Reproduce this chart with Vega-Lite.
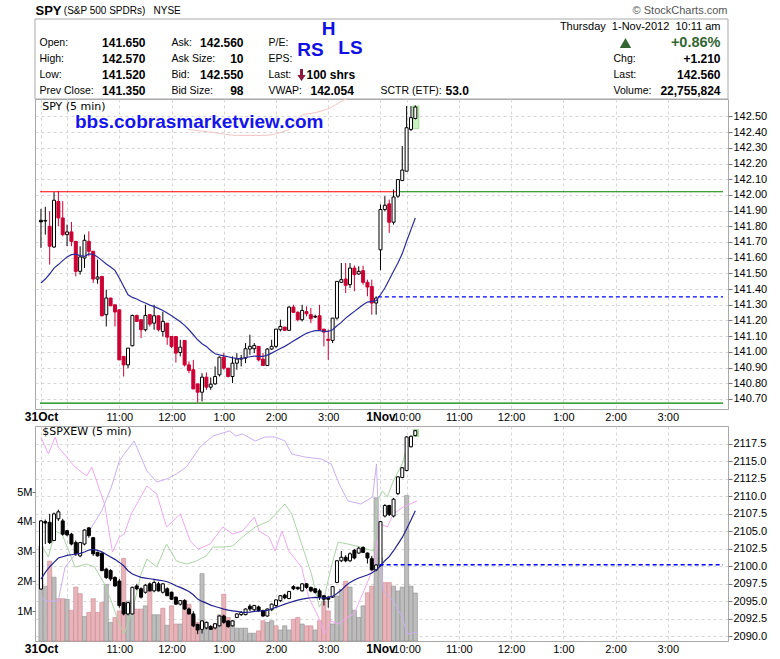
{
"$schema": "https://vega.github.io/schema/vega-lite/v6.json",
"background": "white",
"padding": {"left": 16, "top": 5, "right": 5, "bottom": 0},
"config": {"view": {"stroke": "#a9a9a9", "strokeWidth": 1}, "axis": {"labelFont": "Liberation Sans", "labelColor": "#000000"}},
"datasets": {
"bars": [
{"t":0,"so":141.838,"sh":141.911,"sl":141.662,"sc":141.828,"sm":141.439,"eo":2096.76,"eh":2106.6,"el":2096.7,"ec":2106.5,"em":2098.18,"v":3.18,"vd":"u"},
{"t":5,"so":141.836,"sh":141.924,"sl":141.747,"sc":141.834,"sm":141.464,"eo":2106.4,"eh":2106.7,"el":2103.2,"ec":2106.2,"em":2099.14,"v":1.84,"vd":"u"},
{"t":10,"so":141.8,"sh":141.896,"sl":141.556,"sc":141.673,"sm":141.496,"eo":2106.3,"eh":2107.5,"el":2103.2,"ec":2103.4,"em":2099.95,"v":2.68,"vd":"d"},
{"t":15,"so":141.668,"sh":142.017,"sl":141.662,"sc":141.966,"sm":141.534,"eo":2103.7,"eh":2107.7,"el":2103.6,"ec":2107.5,"em":2100.57,"v":2.14,"vd":"u"},
{"t":20,"so":141.958,"sh":142.024,"sl":141.8,"sc":141.853,"sm":141.556,"eo":2106.8,"eh":2108.1,"el":2106.5,"ec":2107.8,"em":2101.19,"v":1.42,"vd":"d"},
{"t":25,"so":141.853,"sh":141.96,"sl":141.736,"sc":141.747,"sm":141.581,"eo":2106.5,"eh":2106.8,"el":2104.4,"ec":2104.6,"em":2101.38,"v":1.42,"vd":"d"},
{"t":30,"so":141.747,"sh":141.811,"sl":141.673,"sc":141.764,"sm":141.605,"eo":2105.1,"eh":2105.2,"el":2104.3,"ec":2104.5,"em":2101.57,"v":1.4,"vd":"u"},
{"t":35,"so":141.764,"sh":141.828,"sl":141.673,"sc":141.704,"sm":141.619,"eo":2104.6,"eh":2104.8,"el":2103.0,"ec":2103.2,"em":2101.66,"v":1.03,"vd":"d"},
{"t":40,"so":141.704,"sh":141.704,"sl":141.481,"sc":141.513,"sm":141.622,"eo":2103.4,"eh":2103.7,"el":2101.5,"ec":2101.8,"em":2101.76,"v":1.81,"vd":"d"},
{"t":45,"so":141.513,"sh":141.673,"sl":141.492,"sc":141.605,"sm":141.613,"eo":2101.5,"eh":2103.5,"el":2101.3,"ec":2103.4,"em":2101.86,"v":1.59,"vd":"d"},
{"t":50,"so":141.598,"sh":141.747,"sl":141.534,"sc":141.711,"sm":141.609,"eo":2103.2,"eh":2105.3,"el":2103.0,"ec":2105.2,"em":2102.05,"v":0.82,"vd":"u"},
{"t":55,"so":141.704,"sh":141.768,"sl":141.609,"sc":141.641,"sm":141.624,"eo":2105.5,"eh":2105.6,"el":2104.1,"ec":2104.4,"em":2102.33,"v":0.96,"vd":"d"},
{"t":60,"so":141.641,"sh":141.641,"sl":141.439,"sc":141.464,"sm":141.622,"eo":2104.1,"eh":2104.2,"el":2101.5,"ec":2101.8,"em":2102.43,"v":1.42,"vd":"d"},
{"t":65,"so":141.464,"sh":141.588,"sl":141.434,"sc":141.477,"sm":141.605,"eo":2102.0,"eh":2102.1,"el":2101.4,"ec":2101.5,"em":2102.28,"v":0.96,"vd":"d"},
{"t":70,"so":141.481,"sh":141.481,"sl":141.226,"sc":141.23,"sm":141.583,"eo":2101.9,"eh":2102.0,"el":2099.3,"ec":2099.4,"em":2102.09,"v":1.29,"vd":"d"},
{"t":75,"so":141.237,"sh":141.396,"sl":141.162,"sc":141.343,"sm":141.56,"eo":2099.6,"eh":2099.8,"el":2098.2,"ec":2098.4,"em":2101.71,"v":1.9,"vd":"u"},
{"t":80,"so":141.343,"sh":141.343,"sl":141.29,"sc":141.294,"sm":141.541,"eo":2099.4,"eh":2099.6,"el":2097.9,"ec":2098.2,"em":2101.33,"v":0.62,"vd":"u"},
{"t":85,"so":141.3,"sh":141.3,"sl":141.162,"sc":141.254,"sm":141.519,"eo":2098.4,"eh":2098.6,"el":2097.1,"ec":2097.2,"em":2101.0,"v":0.79,"vd":"d"},
{"t":90,"so":141.268,"sh":141.268,"sl":140.949,"sc":140.949,"sm":141.471,"eo":2097.9,"eh":2098.2,"el":2094.1,"ec":2094.4,"em":2100.57,"v":1.01,"vd":"d"},
{"t":95,"so":140.971,"sh":140.971,"sl":140.843,"sc":140.917,"sm":141.417,"eo":2094.8,"eh":2094.9,"el":2093.0,"ec":2093.2,"em":2100.09,"v":2.77,"vd":"d"},
{"t":100,"so":140.917,"sh":141.024,"sl":140.896,"sc":141.024,"sm":141.364,"eo":2093.2,"eh":2094.9,"el":2093.0,"ec":2094.8,"em":2099.38,"v":1.34,"vd":"u"},
{"t":105,"so":141.039,"sh":141.237,"sl":141.035,"sc":141.232,"sm":141.347,"eo":2093.2,"eh":2097.1,"el":2093.1,"ec":2097.0,"em":2098.9,"v":1.34,"vd":"u"},
{"t":110,"so":141.232,"sh":141.237,"sl":141.194,"sc":141.194,"sm":141.337,"eo":2097.2,"eh":2097.5,"el":2096.6,"ec":2096.8,"em":2098.66,"v":1.07,"vd":"d"},
{"t":115,"so":141.205,"sh":141.205,"sl":141.088,"sc":141.141,"sm":141.322,"eo":2096.8,"eh":2097.0,"el":2095.4,"ec":2095.6,"em":2098.42,"v":1.07,"vd":"d"},
{"t":120,"so":141.141,"sh":141.3,"sl":141.13,"sc":141.232,"sm":141.311,"eo":2096.3,"eh":2097.5,"el":2096.1,"ec":2097.3,"em":2098.33,"v":1.18,"vd":"u"},
{"t":125,"so":141.237,"sh":141.237,"sl":141.162,"sc":141.177,"sm":141.298,"eo":2097.5,"eh":2097.7,"el":2096.4,"ec":2096.5,"em":2098.23,"v":1.7,"vd":"d"},
{"t":130,"so":141.183,"sh":141.3,"sl":141.141,"sc":141.23,"sm":141.288,"eo":2096.5,"eh":2098.0,"el":2096.3,"ec":2097.7,"em":2098.14,"v":0.88,"vd":"u"},
{"t":135,"so":141.23,"sh":141.23,"sl":141.13,"sc":141.141,"sm":141.277,"eo":2097.5,"eh":2097.8,"el":2096.4,"ec":2096.5,"em":2098.04,"v":0.88,"vd":"u"},
{"t":140,"so":141.13,"sh":141.256,"sl":141.098,"sc":141.194,"sm":141.264,"eo":2096.3,"eh":2097.6,"el":2096.1,"ec":2097.5,"em":2097.94,"v":1.1,"vd":"d"},
{"t":145,"so":141.183,"sh":141.183,"sl":141.045,"sc":141.094,"sm":141.247,"eo":2096.8,"eh":2097.0,"el":2095.8,"ec":2095.8,"em":2097.8,"v":0.53,"vd":"u"},
{"t":150,"so":141.098,"sh":141.098,"sl":141.024,"sc":141.035,"sm":141.23,"eo":2096.3,"eh":2096.4,"el":2095.2,"ec":2095.3,"em":2097.56,"v":1.18,"vd":"d"},
{"t":155,"so":141.098,"sh":141.098,"sl":140.932,"sc":140.992,"sm":141.211,"eo":2095.6,"eh":2095.7,"el":2094.5,"ec":2094.6,"em":2097.23,"v":0.57,"vd":"d"},
{"t":160,"so":140.996,"sh":141.077,"sl":140.971,"sc":141.03,"sm":141.192,"eo":2094.6,"eh":2095.2,"el":2094.4,"ec":2095.1,"em":2096.99,"v":0.57,"vd":"u"},
{"t":165,"so":141.073,"sh":141.073,"sl":140.907,"sc":140.917,"sm":141.169,"eo":2095.1,"eh":2095.3,"el":2093.8,"ec":2093.9,"em":2096.71,"v":1.37,"vd":"d"},
{"t":170,"so":140.917,"sh":140.939,"sl":140.864,"sc":140.881,"sm":141.141,"eo":2093.9,"eh":2094.1,"el":2093.1,"ec":2093.2,"em":2096.42,"v":1.23,"vd":"d"},
{"t":175,"so":140.886,"sh":140.949,"sl":140.764,"sc":140.764,"sm":141.109,"eo":2093.2,"eh":2093.6,"el":2091.3,"ec":2091.5,"em":2095.94,"v":0.84,"vd":"d"},
{"t":180,"so":140.796,"sh":140.796,"sl":140.677,"sc":140.743,"sm":141.077,"eo":2091.7,"eh":2091.8,"el":2090.3,"ec":2090.9,"em":2095.32,"v":0.62,"vd":"d"},
{"t":185,"so":140.743,"sh":140.864,"sl":140.684,"sc":140.839,"sm":141.052,"eo":2091.0,"eh":2092.3,"el":2090.4,"ec":2092.2,"em":2094.99,"v":2.26,"vd":"u"},
{"t":190,"so":140.839,"sh":140.869,"sl":140.758,"sc":140.775,"sm":141.035,"eo":2091.2,"eh":2092.1,"el":2091.0,"ec":2092.0,"em":2094.75,"v":0.62,"vd":"u"},
{"t":195,"so":140.775,"sh":140.837,"sl":140.758,"sc":140.794,"sm":141.009,"eo":2091.4,"eh":2091.6,"el":2090.9,"ec":2091.0,"em":2094.46,"v":0.43,"vd":"u"},
{"t":200,"so":140.796,"sh":140.907,"sl":140.79,"sc":140.843,"sm":140.988,"eo":2091.2,"eh":2091.9,"el":2091.0,"ec":2091.8,"em":2094.27,"v":0.57,"vd":"d"},
{"t":205,"so":140.854,"sh":140.971,"sl":140.843,"sc":140.966,"sm":140.981,"eo":2091.5,"eh":2093.0,"el":2091.4,"ec":2092.9,"em":2094.08,"v":0.88,"vd":"u"},
{"t":210,"so":140.966,"sh":140.992,"sl":140.886,"sc":140.896,"sm":140.975,"eo":2092.9,"eh":2093.1,"el":2091.8,"ec":2092.0,"em":2093.89,"v":1.57,"vd":"d"},
{"t":215,"so":140.896,"sh":140.896,"sl":140.837,"sc":140.843,"sm":140.969,"eo":2092.2,"eh":2092.3,"el":2091.2,"ec":2091.4,"em":2093.75,"v":0.79,"vd":"d"},
{"t":220,"so":140.843,"sh":140.971,"sl":140.801,"sc":140.928,"sm":140.962,"eo":2091.5,"eh":2092.3,"el":2091.4,"ec":2092.2,"em":2093.65,"v":0.68,"vd":"u"},
{"t":225,"so":140.928,"sh":140.992,"sl":140.886,"sc":140.954,"sm":140.958,"eo":2092.7,"eh":2093.3,"el":2092.6,"ec":2093.2,"em":2093.56,"v":0.43,"vd":"u"},
{"t":230,"so":140.954,"sh":140.981,"sl":140.907,"sc":140.96,"sm":140.956,"eo":2093.1,"eh":2093.6,"el":2092.9,"ec":2093.4,"em":2093.46,"v":0.43,"vd":"u"},
{"t":235,"so":140.96,"sh":141.056,"sl":140.928,"sc":141.02,"sm":140.964,"eo":2093.1,"eh":2094.0,"el":2093.0,"ec":2093.9,"em":2093.41,"v":0.43,"vd":"u"},
{"t":240,"so":141.018,"sh":141.109,"sl":140.981,"sc":141.035,"sm":140.969,"eo":2094.3,"eh":2094.6,"el":2093.6,"ec":2093.9,"em":2093.46,"v":0.26,"vd":"u"},
{"t":245,"so":141.02,"sh":141.056,"sl":140.992,"sc":141.041,"sm":140.973,"eo":2093.8,"eh":2094.5,"el":2093.6,"ec":2094.4,"em":2093.56,"v":0.26,"vd":"u"},
{"t":250,"so":141.035,"sh":141.035,"sl":140.939,"sc":140.949,"sm":140.971,"eo":2094.2,"eh":2094.4,"el":2093.5,"ec":2093.7,"em":2093.6,"v":0.34,"vd":"d"},
{"t":255,"so":140.954,"sh":140.992,"sl":140.913,"sc":140.913,"sm":140.971,"eo":2093.7,"eh":2093.8,"el":2092.8,"ec":2092.9,"em":2093.65,"v":0.68,"vd":"d"},
{"t":260,"so":140.913,"sh":141.024,"sl":140.913,"sc":141.018,"sm":140.979,"eo":2092.9,"eh":2094.0,"el":2092.8,"ec":2093.9,"em":2093.7,"v":0.62,"vd":"u"},
{"t":265,"so":141.018,"sh":141.077,"sl":141.013,"sc":141.035,"sm":140.992,"eo":2093.8,"eh":2094.7,"el":2093.6,"ec":2094.6,"em":2093.94,"v":0.68,"vd":"u"},
{"t":270,"so":141.035,"sh":141.145,"sl":141.024,"sc":141.145,"sm":141.007,"eo":2094.4,"eh":2095.3,"el":2094.2,"ec":2095.2,"em":2094.13,"v":0.51,"vd":"d"},
{"t":275,"so":141.141,"sh":141.205,"sl":141.13,"sc":141.162,"sm":141.022,"eo":2095.1,"eh":2095.9,"el":2094.9,"ec":2095.8,"em":2094.37,"v":0.37,"vd":"u"},
{"t":280,"so":141.158,"sh":141.158,"sl":141.137,"sc":141.137,"sm":141.035,"eo":2095.9,"eh":2096.1,"el":2095.3,"ec":2095.5,"em":2094.6,"v":0.51,"vd":"u"},
{"t":285,"so":141.137,"sh":141.29,"sl":141.137,"sc":141.285,"sm":141.052,"eo":2095.4,"eh":2096.5,"el":2095.3,"ec":2096.4,"em":2094.8,"v":0.37,"vd":"u"},
{"t":290,"so":141.285,"sh":141.3,"sl":141.247,"sc":141.252,"sm":141.069,"eo":2097.1,"eh":2097.3,"el":2096.6,"ec":2096.8,"em":2094.99,"v":0.73,"vd":"d"},
{"t":295,"so":141.252,"sh":141.258,"sl":141.194,"sc":141.205,"sm":141.086,"eo":2097.0,"eh":2097.1,"el":2096.6,"ec":2096.8,"em":2095.18,"v":0.79,"vd":"d"},
{"t":300,"so":141.205,"sh":141.3,"sl":141.194,"sc":141.264,"sm":141.103,"eo":2096.5,"eh":2097.6,"el":2096.4,"ec":2097.5,"em":2095.32,"v":0.57,"vd":"u"},
{"t":305,"so":141.256,"sh":141.29,"sl":141.226,"sc":141.243,"sm":141.118,"eo":2097.5,"eh":2097.6,"el":2096.8,"ec":2097.0,"em":2095.42,"v":0.51,"vd":"d"},
{"t":310,"so":141.237,"sh":141.279,"sl":141.183,"sc":141.211,"sm":141.128,"eo":2097.0,"eh":2097.1,"el":2096.3,"ec":2096.5,"em":2095.51,"v":0.51,"vd":"d"},
{"t":315,"so":141.226,"sh":141.237,"sl":141.215,"sc":141.222,"sm":141.135,"eo":2096.8,"eh":2096.9,"el":2096.1,"ec":2096.3,"em":2095.56,"v":0.37,"vd":"u"},
{"t":320,"so":141.23,"sh":141.3,"sl":141.141,"sc":141.141,"sm":141.135,"eo":2096.5,"eh":2096.8,"el":2095.2,"ec":2095.6,"em":2095.51,"v":0.68,"vd":"d"},
{"t":325,"so":141.145,"sh":141.145,"sl":141.035,"sc":141.126,"sm":141.13,"eo":2095.8,"eh":2095.9,"el":2094.4,"ec":2095.3,"em":2095.46,"v":1.34,"vd":"d"},
{"t":330,"so":141.081,"sh":141.141,"sl":140.949,"sc":141.073,"sm":141.13,"eo":2095.6,"eh":2095.7,"el":2094.1,"ec":2095.3,"em":2095.56,"v":1.01,"vd":"d"},
{"t":335,"so":141.073,"sh":141.215,"sl":141.056,"sc":141.215,"sm":141.141,"eo":2095.6,"eh":2097.2,"el":2095.5,"ec":2097.1,"em":2095.7,"v":0.57,"vd":"u"},
{"t":340,"so":141.215,"sh":141.449,"sl":141.205,"sc":141.449,"sm":141.166,"eo":2097.7,"eh":2100.9,"el":2097.6,"ec":2100.8,"em":2096.13,"v":1.51,"vd":"u"},
{"t":345,"so":141.443,"sh":141.566,"sl":141.439,"sc":141.46,"sm":141.188,"eo":2100.8,"eh":2102.2,"el":2100.6,"ec":2101.3,"em":2096.61,"v":1.73,"vd":"u"},
{"t":350,"so":141.464,"sh":141.566,"sl":141.375,"sc":141.424,"sm":141.215,"eo":2101.3,"eh":2101.6,"el":2100.6,"ec":2100.8,"em":2097.23,"v":2.01,"vd":"d"},
{"t":355,"so":141.428,"sh":141.566,"sl":141.407,"sc":141.534,"sm":141.237,"eo":2100.8,"eh":2102.0,"el":2100.6,"ec":2101.8,"em":2097.71,"v":1.81,"vd":"u"},
{"t":360,"so":141.534,"sh":141.551,"sl":141.386,"sc":141.492,"sm":141.258,"eo":2102.3,"eh":2102.5,"el":2101.0,"ec":2101.2,"em":2098.04,"v":1.03,"vd":"u"},
{"t":365,"so":141.496,"sh":141.545,"sl":141.492,"sc":141.513,"sm":141.279,"eo":2101.9,"eh":2102.8,"el":2101.8,"ec":2102.6,"em":2098.33,"v":0.79,"vd":"u"},
{"t":370,"so":141.517,"sh":141.549,"sl":141.428,"sc":141.443,"sm":141.3,"eo":2102.7,"eh":2102.9,"el":2101.9,"ec":2102.0,"em":2098.56,"v":1.18,"vd":"u"},
{"t":375,"so":141.443,"sh":141.46,"sl":141.354,"sc":141.413,"sm":141.317,"eo":2101.9,"eh":2102.0,"el":2100.4,"ec":2101.2,"em":2098.76,"v":1.62,"vd":"d"},
{"t":380,"so":141.417,"sh":141.46,"sl":141.237,"sc":141.311,"sm":141.322,"eo":2101.1,"eh":2101.5,"el":2099.4,"ec":2099.5,"em":2099.04,"v":1.84,"vd":"d"},
{"t":385,"so":141.311,"sh":141.354,"sl":141.237,"sc":141.343,"sm":141.326,"eo":2099.5,"eh":2100.3,"el":2099.3,"ec":2100.2,"em":2099.47,"v":4.81,"vd":"u"},
{"t":390,"so":141.65,"sh":141.939,"sl":141.52,"sc":141.907,"sm":141.364,"eo":2100.1,"eh":2106.5,"el":2100.0,"ec":2106.4,"em":2100.09,"v":2.79,"vd":"u"},
{"t":395,"so":141.907,"sh":141.992,"sl":141.896,"sc":141.934,"sm":141.407,"eo":2107.2,"eh":2108.9,"el":2107.0,"ec":2108.7,"em":2100.81,"v":1.96,"vd":"d"},
{"t":400,"so":141.943,"sh":141.97,"sl":141.758,"sc":141.826,"sm":141.46,"eo":2108.7,"eh":2108.8,"el":2107.2,"ec":2107.4,"em":2101.38,"v":1.96,"vd":"d"},
{"t":405,"so":141.826,"sh":142.034,"sl":141.811,"sc":141.987,"sm":141.513,"eo":2107.2,"eh":2109.8,"el":2107.0,"ec":2109.6,"em":2102.24,"v":1.84,"vd":"u"},
{"t":410,"so":141.992,"sh":142.098,"sl":141.981,"sc":142.098,"sm":141.566,"eo":2110.4,"eh":2112.9,"el":2110.2,"ec":2112.8,"em":2103.19,"v":1.68,"vd":"u"},
{"t":415,"so":142.092,"sh":142.311,"sl":142.088,"sc":142.158,"sm":141.626,"eo":2112.7,"eh":2114.2,"el":2112.6,"ec":2114.1,"em":2104.14,"v":1.81,"vd":"u"},
{"t":420,"so":142.151,"sh":142.566,"sl":142.151,"sc":142.428,"sm":141.705,"eo":2113.7,"eh":2118.6,"el":2113.6,"ec":2118.5,"em":2105.34,"v":4.88,"vd":"u"},
{"t":425,"so":142.417,"sh":142.566,"sl":142.407,"sc":142.492,"sm":141.779,"eo":2117.1,"eh":2118.7,"el":2117.0,"ec":2118.6,"em":2106.62,"v":1.84,"vd":"u"},
{"t":430,"so":142.487,"sh":142.57,"sl":142.481,"sc":142.56,"sm":141.853,"eo":2118.7,"eh":2119.5,"el":2118.6,"ec":2119.4,"em":2107.96,"v":1.61,"vd":"u"}
],
"lev": [
{"t":-1.1,"t2":409,"y":142.02,"s":"b"},
{"t":409,"t2":783.4,"y":142.02,"s":"a"},
{"t":-1.1,"t2":783.4,"y":140.673,"s":"a"}
],
"prev": [
{"panel":"top","t":387,"t2":783.4,"y":141.35},
{"panel":"bot","t":389,"t2":783.4,"y":2100.23}
],
"tline": [
{"t":169,"p":142.417},{"t":197.5,"p":142.398},{"t":225.9,"p":142.379},{"t":254.2,"p":142.379},{"t":284.7,"p":142.417},{"t":299.4,"p":142.506},{"t":316.4,"p":142.526},{"t":333.4,"p":142.557},{"t":347,"p":142.602},{"t":367.4,"p":142.634}
],
"elines": [
{"s":"pink","t":0,"p":2118.5},{"s":"pink","t":8.5,"p":2116.07},{"s":"pink","t":16.4,"p":2118.5},{"s":"pink","t":19.8,"p":2117.07},{"s":"pink","t":39.1,"p":2114.21},{"s":"pink","t":52.6,"p":2112.92},{"s":"pink","t":58.3,"p":2114.21},{"s":"pink","t":63.9,"p":2112.21},{"s":"pink","t":73,"p":2108.92},{"s":"pink","t":82.1,"p":2102.05},{"s":"pink","t":90,"p":2104.2},{"s":"pink","t":95.7,"p":2104.62},{"s":"pink","t":103.6,"p":2107.49},{"s":"pink","t":121.7,"p":2111.49},{"s":"pink","t":133,"p":2110.35},{"s":"pink","t":144.3,"p":2105.63},{"s":"pink","t":160.2,"p":2107.49},{"s":"pink","t":171.5,"p":2103.62},{"s":"pink","t":180.6,"p":2102.48},{"s":"pink","t":194.2,"p":2103.19},{"s":"pink","t":208.9,"p":2105.63},{"s":"pink","t":220.2,"p":2104.62},{"s":"pink","t":231.5,"p":2105.05},{"s":"pink","t":245.1,"p":2107.06},{"s":"pink","t":250.7,"p":2105.05},{"s":"pink","t":262,"p":2104.2},{"s":"pink","t":268.9,"p":2102.19},{"s":"pink","t":276.8,"p":2105.05},{"s":"pink","t":284.7,"p":2102.19},{"s":"pink","t":299.4,"p":2099.9},{"s":"pink","t":307.4,"p":2095.61},{"s":"pink","t":318.7,"p":2092.75},{"s":"pink","t":325.5,"p":2090.32},{"s":"pink","t":333.4,"p":2092.18},{"s":"pink","t":341.3,"p":2091.75},{"s":"pink","t":352.6,"p":2092.75},{"s":"pink","t":359.5,"p":2093.18},{"s":"pink","t":370.8,"p":2096.47},{"s":"pink","t":382.1,"p":2099.9},{"s":"pink","t":390,"p":2106.06},{"s":"pink","t":397.9,"p":2105.63},{"s":"pink","t":404.7,"p":2107.49},{"s":"pink","t":416,"p":2108.49},{"s":"pink","t":424,"p":2108.92},{"s":"pink","t":431.9,"p":2109.35},
{"s":"violet","t":0.6,"p":2095.61},{"s":"violet","t":5.1,"p":2095.04},{"s":"violet","t":19.8,"p":2095.04},{"s":"violet","t":27.7,"p":2099.9},{"s":"violet","t":42.5,"p":2102.19},{"s":"violet","t":58.3,"p":2105.63},{"s":"violet","t":69.6,"p":2107.92},{"s":"violet","t":80.9,"p":2111.35},{"s":"violet","t":90,"p":2115.07},{"s":"violet","t":95.7,"p":2116.07},{"s":"violet","t":107,"p":2117.93},{"s":"violet","t":121.7,"p":2113.64},{"s":"violet","t":133,"p":2112.06},{"s":"violet","t":144.3,"p":2112.49},{"s":"violet","t":155.7,"p":2113.21},{"s":"violet","t":167,"p":2114.21},{"s":"violet","t":182.8,"p":2117.07},{"s":"violet","t":197.5,"p":2118.64},{"s":"violet","t":208.9,"p":2119.07},{"s":"violet","t":216.8,"p":2119.36},{"s":"violet","t":223.6,"p":2118.64},{"s":"violet","t":231.5,"p":2118.93},{"s":"violet","t":246.2,"p":2117.93},{"s":"violet","t":257.5,"p":2118.5},{"s":"violet","t":268.9,"p":2118.5},{"s":"violet","t":280.2,"p":2117.93},{"s":"violet","t":288.1,"p":2116.07},{"s":"violet","t":302.8,"p":2115.64},{"s":"violet","t":322.1,"p":2115.35},{"s":"violet","t":333.4,"p":2114.64},{"s":"violet","t":342.5,"p":2111.78},{"s":"violet","t":352.6,"p":2109.35},{"s":"violet","t":367.3,"p":2108.92},{"s":"violet","t":380.9,"p":2109.92},{"s":"violet","t":385.4,"p":2114.64},{"s":"violet","t":388.8,"p":2103.19},{"s":"violet","t":393.3,"p":2096.47},{"s":"violet","t":404.7,"p":2095.04},{"s":"violet","t":414.9,"p":2092.75},{"s":"violet","t":420.6,"p":2090.32},{"s":"violet","t":433.1,"p":2090.6},
{"s":"green","t":0,"p":2103.19},{"s":"green","t":8.5,"p":2101.33},{"s":"green","t":16.4,"p":2105.05},{"s":"green","t":24.3,"p":2104.62},{"s":"green","t":39.1,"p":2099.9},{"s":"green","t":52.6,"p":2100.33},{"s":"green","t":61.7,"p":2099.9},{"s":"green","t":73,"p":2097.47},{"s":"green","t":82.1,"p":2094.61},{"s":"green","t":90,"p":2091.75},{"s":"green","t":95.7,"p":2090.32},{"s":"green","t":107,"p":2094.61},{"s":"green","t":114.9,"p":2098.9},{"s":"green","t":121.7,"p":2101.05},{"s":"green","t":133,"p":2099.9},{"s":"green","t":144.3,"p":2103.19},{"s":"green","t":155.7,"p":2100.76},{"s":"green","t":167,"p":2100.33},{"s":"green","t":178.3,"p":2100.76},{"s":"green","t":189.6,"p":2101.48},{"s":"green","t":197.5,"p":2102.76},{"s":"green","t":208.9,"p":2102.76},{"s":"green","t":220.2,"p":2102.91},{"s":"green","t":231.5,"p":2104.2},{"s":"green","t":246.2,"p":2105.63},{"s":"green","t":262,"p":2106.48},{"s":"green","t":280.2,"p":2108.92},{"s":"green","t":288.1,"p":2107.49},{"s":"green","t":299.4,"p":2103.19},{"s":"green","t":310.7,"p":2098.9},{"s":"green","t":319.8,"p":2094.18},{"s":"green","t":325.5,"p":2095.61},{"s":"green","t":333.4,"p":2099.9},{"s":"green","t":341.3,"p":2103.48},{"s":"green","t":352.6,"p":2103.19},{"s":"green","t":367.3,"p":2102.76},{"s":"green","t":382.1,"p":2102.19},{"s":"green","t":386.6,"p":2109.35},{"s":"green","t":392.2,"p":2110.78},{"s":"green","t":397.9,"p":2109.92},{"s":"green","t":404.7,"p":2112.21},{"s":"green","t":414.9,"p":2114.64},{"s":"green","t":420.6,"p":2117.07}
],
"hdr": [
{"k":"t1","col":0,"row":-1,"text":"SPY"},
{"k":"t2","col":2,"row":-1,"text":"(S&P 500 SPDRs)"},
{"k":"t2","col":4,"row":-1,"text":"NYSE"},
{"k":"copy","col":18,"row":-1,"text":"© StockCharts.com"},
{"k":"date","col":17,"row":0,"text":"Thursday\u00a0 1-Nov-2012\u00a0 10:11 am"},
{"k":"lab","col":1,"row":1,"text":"Open:"},
{"k":"lab","col":1,"row":2,"text":"High:"},
{"k":"lab","col":1,"row":3,"text":"Low:"},
{"k":"lab","col":1,"row":4,"text":"Prev Close:"},
{"k":"val","col":3,"row":1,"text":"141.650"},
{"k":"val","col":3,"row":2,"text":"142.570"},
{"k":"val","col":3,"row":3,"text":"141.520"},
{"k":"val","col":3,"row":4,"text":"141.350"},
{"k":"lab","col":5,"row":1,"text":"Ask:"},
{"k":"lab","col":5,"row":2,"text":"Ask Size:"},
{"k":"lab","col":5,"row":3,"text":"Bid:"},
{"k":"lab","col":5,"row":4,"text":"Bid Size:"},
{"k":"val","col":6,"row":1,"text":"142.560"},
{"k":"val","col":6,"row":2,"text":"10"},
{"k":"val","col":6,"row":3,"text":"142.550"},
{"k":"val","col":6,"row":4,"text":"98"},
{"k":"lab","col":7,"row":1,"text":"P/E:"},
{"k":"lab","col":7,"row":2,"text":"EPS:"},
{"k":"lab","col":7,"row":3,"text":"Last:"},
{"k":"lab","col":7,"row":4,"text":"VWAP:"},
{"k":"arrow","col":8,"row":3,"text":""},
{"k":"bval","col":9,"row":3,"text":"100 shrs"},
{"k":"bval","col":10,"row":4,"text":"142.054"},
{"k":"lab","col":13,"row":4,"text":"SCTR (ETF):"},
{"k":"bval","col":14,"row":4,"text":"53.0"},
{"k":"tri","col":16,"row":1,"text":""},
{"k":"pct","col":17,"row":1,"text":"+0.86%"},
{"k":"lab","col":15,"row":2,"text":"Chg:"},
{"k":"lab","col":15,"row":3,"text":"Last:"},
{"k":"lab","col":15,"row":4,"text":"Volume:"},
{"k":"val","col":17,"row":2,"text":"+1.210"},
{"k":"val","col":17,"row":3,"text":"142.560"},
{"k":"val","col":17,"row":4,"text":"22,755,824"},
{"k":"ann","col":11,"row":0.12,"text":"H"},
{"k":"ann","col":10,"row":1.42,"text":"RS"},
{"k":"ann","col":12,"row":1.33,"text":"LS"},
{"k":"box","col":0,"row":0,"text":""}
]
},
"vconcat": [
{
"width": 693, "height": 63,
"view": {"stroke": null},
"data": {"name": "hdr"},
"encoding": {
"x": {"field": "col", "type": "quantitative", "axis": null, "scale": {"domain": [-1,0,1,2,3,4,5,6,7,8,9,10,11,12,13,14,15,16,17,18,19], "range": [0,0.5,4.5,28.8,110.5,118.5,136.5,208.5,233.5,266.5,271.5,275.5,293.5,315.5,345.5,410.5,578.5,590.5,685.5,692.5,693], "nice": false, "zero": false}},
"y": {"field": "row", "type": "quantitative", "axis": null, "scale": {"domain": [-0.5, 3.4375], "reverse": true, "nice": false, "zero": false}}
},
"layer": [
{"transform": [{"filter": "datum.k == 'box'"}], "mark": {"type": "rect", "fill": null, "stroke": "#a9a9a9", "strokeWidth": 1},
 "encoding": {"x": {"datum": -1, "type": "quantitative", "axis": null}, "x2": {"datum": 19}, "y": {"datum": -0.5, "type": "quantitative", "axis": null}, "y2": {"datum": 4.5}}},
{"transform": [{"filter": "datum.k == 'lab'"}], "mark": {"type": "text", "align": "left", "baseline": "middle", "font": "Liberation Sans", "fontSize": 10.5, "color": "#000000"}, "encoding": {"text": {"field": "text"}}},
{"transform": [{"filter": "datum.k == 'val'"}], "mark": {"type": "text", "align": "right", "baseline": "middle", "font": "Liberation Sans", "fontSize": 12, "fontWeight": "bold", "color": "#000000"}, "encoding": {"text": {"field": "text"}}},
{"transform": [{"filter": "datum.k == 'bval'"}], "mark": {"type": "text", "align": "left", "baseline": "middle", "font": "Liberation Sans", "fontSize": 12, "fontWeight": "bold", "color": "#000000"}, "encoding": {"text": {"field": "text"}}},
{"transform": [{"filter": "datum.k == 'date'"}], "mark": {"type": "text", "align": "right", "baseline": "middle", "font": "Liberation Sans", "fontSize": 11, "color": "#000000"}, "encoding": {"text": {"field": "text"}}},
{"transform": [{"filter": "datum.k == 'pct'"}], "mark": {"type": "text", "align": "right", "baseline": "middle", "font": "Liberation Sans", "fontSize": 14.5, "fontWeight": "bold", "color": "#336633"}, "encoding": {"text": {"field": "text"}}},
{"transform": [{"filter": "datum.k == 'ann'"}], "mark": {"type": "text", "align": "center", "baseline": "middle", "font": "Liberation Sans", "fontSize": 19, "fontWeight": "bold", "color": "#1010e6"}, "encoding": {"text": {"field": "text"}}},
{"transform": [{"filter": "datum.k == 't1'"}], "mark": {"type": "text", "align": "left", "baseline": "middle", "font": "Liberation Sans", "fontSize": 13, "fontWeight": "bold", "color": "#000000"}, "encoding": {"text": {"field": "text"}}},
{"transform": [{"filter": "datum.k == 't2'"}], "mark": {"type": "text", "align": "left", "baseline": "middle", "font": "Liberation Sans", "fontSize": 10, "color": "#000000"}, "encoding": {"text": {"field": "text"}}},
{"transform": [{"filter": "datum.k == 'copy'"}], "mark": {"type": "text", "align": "right", "baseline": "middle", "font": "Liberation Sans", "fontSize": 11, "color": "#555555"}, "encoding": {"text": {"field": "text"}}},
{"transform": [{"filter": "datum.k == 'tri'"}], "mark": {"type": "point", "shape": "triangle-up", "size": 130, "filled": true, "color": "#336633", "opacity": 1}},
{"transform": [{"filter": "datum.k == 'arrow'"}], "mark": {"type": "point", "shape": "M-0.25,-1L0.25,-1L0.25,0L0.7,0L0,1L-0.7,0L-0.25,0Z", "size": 144, "filled": true, "color": "#8b1a3c", "opacity": 1}}
]
},
{
"width": 693, "height": 310,
"layer": [
{"data": {"name": "tline"}, "mark": {"type": "line", "stroke": "#f2c4c4", "strokeWidth": 1, "clip": true, "interpolate": "monotone"},
 "encoding": {
  "x": {"field": "t", "type": "quantitative", "scale": {"domain": [-1.1, 783.4], "nice": false, "zero": false}, "axis": {"values": [0,30,90,150,210,270,330,390,420,480,540,600,660,720], "labelExpr": "datum.value == 0 ? '31Oct' : datum.value == 390 ? '1Nov' : datum.value == 30 ? '' : ((floor(((datum.value % 390) + 570) / 60) - 1) % 12 + 1) + ':00'", "labelFontWeight": {"condition": {"test": "datum.value == 0 || datum.value == 390", "value": "bold"}, "value": "normal"}, "labelFontSize": {"condition": {"test": "datum.value == 0 || datum.value == 390", "value": 12}, "value": 11}, "labelOverlap": false, "labelFlush": false, "labelBound": false, "grid": true, "gridColor": "#d6d6d6", "gridDash": [3,3], "ticks": false, "tickSize": 0, "labelPadding": 2, "domain": false, "title": null}},
  "y": {"field": "p", "type": "quantitative", "scale": {"domain": [140.636, 142.611], "nice": false, "zero": false}, "axis": {"orient": "right", "values": [140.7,140.8,140.9,141.0,141.1,141.2,141.3,141.4,141.5,141.6,141.7,141.8,141.9,142.0,142.1,142.2,142.3,142.4,142.5], "format": ".2f", "grid": true, "gridColor": "#d6d6d6", "gridDash": [3,3], "ticks": true, "tickSize": 4, "tickColor": "#777777", "labelPadding": 1, "labelFontSize": 11, "domain": false, "title": null}}
 }},
{"data": {"name": "lev"}, "mark": {"type": "rule", "strokeWidth": 1.2},
 "encoding": {
  "x": {"field": "t", "type": "quantitative", "scale": {"domain": [-1.1, 783.4], "nice": false, "zero": false}, "axis": {"values": [0,30,90,150,210,270,330,390,420,480,540,600,660,720], "labelExpr": "datum.value == 0 ? '31Oct' : datum.value == 390 ? '1Nov' : datum.value == 30 ? '' : ((floor(((datum.value % 390) + 570) / 60) - 1) % 12 + 1) + ':00'", "labelFontWeight": {"condition": {"test": "datum.value == 0 || datum.value == 390", "value": "bold"}, "value": "normal"}, "labelFontSize": {"condition": {"test": "datum.value == 0 || datum.value == 390", "value": 12}, "value": 11}, "labelOverlap": false, "labelFlush": false, "labelBound": false, "grid": true, "gridColor": "#d6d6d6", "gridDash": [3,3], "ticks": false, "tickSize": 0, "labelPadding": 2, "domain": false, "title": null}},
  "x2": {"field": "t2"},
  "y": {"field": "y", "type": "quantitative", "scale": {"domain": [140.636, 142.611], "nice": false, "zero": false}, "axis": {"orient": "right", "values": [140.7,140.8,140.9,141.0,141.1,141.2,141.3,141.4,141.5,141.6,141.7,141.8,141.9,142.0,142.1,142.2,142.3,142.4,142.5], "format": ".2f", "grid": true, "gridColor": "#d6d6d6", "gridDash": [3,3], "ticks": true, "tickSize": 4, "tickColor": "#777777", "labelPadding": 1, "labelFontSize": 11, "domain": false, "title": null}},
  "stroke": {"condition": {"test": "datum.s == 'b'", "value": "#ff0000"}, "value": "#008000"}
 }},
{"data": {"name": "bars"}, "transform": [{"filter": "datum.t == 430"}], "mark": {"type": "rect", "fill": "#c9f2bd", "stroke": "#a3da94", "strokeWidth": 1},
 "encoding": {
  "x": {"datum": 427, "type": "quantitative", "scale": {"domain": [-1.1, 783.4], "nice": false, "zero": false}, "axis": {"values": [0,30,90,150,210,270,330,390,420,480,540,600,660,720], "labelExpr": "datum.value == 0 ? '31Oct' : datum.value == 390 ? '1Nov' : datum.value == 30 ? '' : ((floor(((datum.value % 390) + 570) / 60) - 1) % 12 + 1) + ':00'", "labelFontWeight": {"condition": {"test": "datum.value == 0 || datum.value == 390", "value": "bold"}, "value": "normal"}, "labelFontSize": {"condition": {"test": "datum.value == 0 || datum.value == 390", "value": 12}, "value": 11}, "labelOverlap": false, "labelFlush": false, "labelBound": false, "grid": true, "gridColor": "#d6d6d6", "gridDash": [3,3], "ticks": false, "tickSize": 0, "labelPadding": 2, "domain": false, "title": null}},
  "x2": {"datum": 434},
  "y": {"datum": 142.422, "type": "quantitative", "scale": {"domain": [140.636, 142.611], "nice": false, "zero": false}, "axis": {"orient": "right", "values": [140.7,140.8,140.9,141.0,141.1,141.2,141.3,141.4,141.5,141.6,141.7,141.8,141.9,142.0,142.1,142.2,142.3,142.4,142.5], "format": ".2f", "grid": true, "gridColor": "#d6d6d6", "gridDash": [3,3], "ticks": true, "tickSize": 4, "tickColor": "#777777", "labelPadding": 1, "labelFontSize": 11, "domain": false, "title": null}},
  "y2": {"datum": 142.566}
 }},
{"data": {"name": "bars"}, "transform": [{"window": [{"op": "lag", "field": "sc", "as": "sp"}], "sort": [{"field": "t", "order": "ascending"}]}], "mark": {"type": "rule", "strokeWidth": 1},
 "encoding": {
  "x": {"field": "t", "type": "quantitative", "scale": {"domain": [-1.1, 783.4], "nice": false, "zero": false}, "axis": {"values": [0,30,90,150,210,270,330,390,420,480,540,600,660,720], "labelExpr": "datum.value == 0 ? '31Oct' : datum.value == 390 ? '1Nov' : datum.value == 30 ? '' : ((floor(((datum.value % 390) + 570) / 60) - 1) % 12 + 1) + ':00'", "labelFontWeight": {"condition": {"test": "datum.value == 0 || datum.value == 390", "value": "bold"}, "value": "normal"}, "labelFontSize": {"condition": {"test": "datum.value == 0 || datum.value == 390", "value": 12}, "value": 11}, "labelOverlap": false, "labelFlush": false, "labelBound": false, "grid": true, "gridColor": "#d6d6d6", "gridDash": [3,3], "ticks": false, "tickSize": 0, "labelPadding": 2, "domain": false, "title": null}},
  "y": {"field": "sl", "type": "quantitative", "scale": {"domain": [140.636, 142.611], "nice": false, "zero": false}, "axis": {"orient": "right", "values": [140.7,140.8,140.9,141.0,141.1,141.2,141.3,141.4,141.5,141.6,141.7,141.8,141.9,142.0,142.1,142.2,142.3,142.4,142.5], "format": ".2f", "grid": true, "gridColor": "#d6d6d6", "gridDash": [3,3], "ticks": true, "tickSize": 4, "tickColor": "#777777", "labelPadding": 1, "labelFontSize": 11, "domain": false, "title": null}},
  "y2": {"field": "sh"},
  "stroke": {"condition": {"test": "datum.sp != null && datum.sc < datum.sp", "value": "#cc0033"}, "value": "#000000"}
 }},
{"data": {"name": "bars"}, "transform": [{"window": [{"op": "lag", "field": "sc", "as": "sp"}], "sort": [{"field": "t", "order": "ascending"}]}], "mark": {"type": "bar", "width": 3, "strokeWidth": 1},
 "encoding": {
  "x": {"field": "t", "type": "quantitative", "scale": {"domain": [-1.1, 783.4], "nice": false, "zero": false}, "axis": {"values": [0,30,90,150,210,270,330,390,420,480,540,600,660,720], "labelExpr": "datum.value == 0 ? '31Oct' : datum.value == 390 ? '1Nov' : datum.value == 30 ? '' : ((floor(((datum.value % 390) + 570) / 60) - 1) % 12 + 1) + ':00'", "labelFontWeight": {"condition": {"test": "datum.value == 0 || datum.value == 390", "value": "bold"}, "value": "normal"}, "labelFontSize": {"condition": {"test": "datum.value == 0 || datum.value == 390", "value": 12}, "value": 11}, "labelOverlap": false, "labelFlush": false, "labelBound": false, "grid": true, "gridColor": "#d6d6d6", "gridDash": [3,3], "ticks": false, "tickSize": 0, "labelPadding": 2, "domain": false, "title": null}},
  "y": {"field": "so", "type": "quantitative", "scale": {"domain": [140.636, 142.611], "nice": false, "zero": false}, "axis": {"orient": "right", "values": [140.7,140.8,140.9,141.0,141.1,141.2,141.3,141.4,141.5,141.6,141.7,141.8,141.9,142.0,142.1,142.2,142.3,142.4,142.5], "format": ".2f", "grid": true, "gridColor": "#d6d6d6", "gridDash": [3,3], "ticks": true, "tickSize": 4, "tickColor": "#777777", "labelPadding": 1, "labelFontSize": 11, "domain": false, "title": null}},
  "y2": {"field": "sc"},
  "fill": {"condition": [{"test": "datum.sc > datum.so", "value": "#ffffff"}, {"test": "datum.sp != null && datum.sc < datum.sp", "value": "#cc0033"}], "value": "#000000"},
  "stroke": {"condition": {"test": "datum.sp != null && datum.sc < datum.sp", "value": "#cc0033"}, "value": "#000000"}
 }},
{"data": {"name": "bars"}, "mark": {"type": "line", "stroke": "#2b2b9c", "strokeWidth": 1.2},
 "encoding": {
  "x": {"field": "t", "type": "quantitative", "scale": {"domain": [-1.1, 783.4], "nice": false, "zero": false}, "axis": {"values": [0,30,90,150,210,270,330,390,420,480,540,600,660,720], "labelExpr": "datum.value == 0 ? '31Oct' : datum.value == 390 ? '1Nov' : datum.value == 30 ? '' : ((floor(((datum.value % 390) + 570) / 60) - 1) % 12 + 1) + ':00'", "labelFontWeight": {"condition": {"test": "datum.value == 0 || datum.value == 390", "value": "bold"}, "value": "normal"}, "labelFontSize": {"condition": {"test": "datum.value == 0 || datum.value == 390", "value": 12}, "value": 11}, "labelOverlap": false, "labelFlush": false, "labelBound": false, "grid": true, "gridColor": "#d6d6d6", "gridDash": [3,3], "ticks": false, "tickSize": 0, "labelPadding": 2, "domain": false, "title": null}},
  "y": {"field": "sm", "type": "quantitative", "scale": {"domain": [140.636, 142.611], "nice": false, "zero": false}, "axis": {"orient": "right", "values": [140.7,140.8,140.9,141.0,141.1,141.2,141.3,141.4,141.5,141.6,141.7,141.8,141.9,142.0,142.1,142.2,142.3,142.4,142.5], "format": ".2f", "grid": true, "gridColor": "#d6d6d6", "gridDash": [3,3], "ticks": true, "tickSize": 4, "tickColor": "#777777", "labelPadding": 1, "labelFontSize": 11, "domain": false, "title": null}}
 }},
{"data": {"name": "prev"}, "transform": [{"filter": "datum.panel == 'top'"}], "mark": {"type": "rule", "stroke": "#0000ff", "strokeWidth": 1.3, "strokeDash": [4,3]},
 "encoding": {
  "x": {"field": "t", "type": "quantitative", "scale": {"domain": [-1.1, 783.4], "nice": false, "zero": false}, "axis": {"values": [0,30,90,150,210,270,330,390,420,480,540,600,660,720], "labelExpr": "datum.value == 0 ? '31Oct' : datum.value == 390 ? '1Nov' : datum.value == 30 ? '' : ((floor(((datum.value % 390) + 570) / 60) - 1) % 12 + 1) + ':00'", "labelFontWeight": {"condition": {"test": "datum.value == 0 || datum.value == 390", "value": "bold"}, "value": "normal"}, "labelFontSize": {"condition": {"test": "datum.value == 0 || datum.value == 390", "value": 12}, "value": 11}, "labelOverlap": false, "labelFlush": false, "labelBound": false, "grid": true, "gridColor": "#d6d6d6", "gridDash": [3,3], "ticks": false, "tickSize": 0, "labelPadding": 2, "domain": false, "title": null}},
  "x2": {"field": "t2"},
  "y": {"field": "y", "type": "quantitative", "scale": {"domain": [140.636, 142.611], "nice": false, "zero": false}, "axis": {"orient": "right", "values": [140.7,140.8,140.9,141.0,141.1,141.2,141.3,141.4,141.5,141.6,141.7,141.8,141.9,142.0,142.1,142.2,142.3,142.4,142.5], "format": ".2f", "grid": true, "gridColor": "#d6d6d6", "gridDash": [3,3], "ticks": true, "tickSize": 4, "tickColor": "#777777", "labelPadding": 1, "labelFontSize": 11, "domain": false, "title": null}}
 }},
{"data": {"name": "bars"}, "transform": [{"filter": "datum.t == 0"}], "mark": {"type": "text", "align": "left", "baseline": "middle", "font": "DejaVu Sans", "fontSize": 11, "color": "#000000"},
 "encoding": {
  "x": {"datum": 1.4, "type": "quantitative", "scale": {"domain": [-1.1, 783.4], "nice": false, "zero": false}, "axis": {"values": [0,30,90,150,210,270,330,390,420,480,540,600,660,720], "labelExpr": "datum.value == 0 ? '31Oct' : datum.value == 390 ? '1Nov' : datum.value == 30 ? '' : ((floor(((datum.value % 390) + 570) / 60) - 1) % 12 + 1) + ':00'", "labelFontWeight": {"condition": {"test": "datum.value == 0 || datum.value == 390", "value": "bold"}, "value": "normal"}, "labelFontSize": {"condition": {"test": "datum.value == 0 || datum.value == 390", "value": 12}, "value": 11}, "labelOverlap": false, "labelFlush": false, "labelBound": false, "grid": true, "gridColor": "#d6d6d6", "gridDash": [3,3], "ticks": false, "tickSize": 0, "labelPadding": 2, "domain": false, "title": null}},
  "y": {"datum": 142.562, "type": "quantitative", "scale": {"domain": [140.636, 142.611], "nice": false, "zero": false}, "axis": {"orient": "right", "values": [140.7,140.8,140.9,141.0,141.1,141.2,141.3,141.4,141.5,141.6,141.7,141.8,141.9,142.0,142.1,142.2,142.3,142.4,142.5], "format": ".2f", "grid": true, "gridColor": "#d6d6d6", "gridDash": [3,3], "ticks": true, "tickSize": 4, "tickColor": "#777777", "labelPadding": 1, "labelFontSize": 11, "domain": false, "title": null}},
  "text": {"value": "SPY (5 min)"}
 }},
{"data": {"name": "bars"}, "transform": [{"filter": "datum.t == 0"}], "mark": {"type": "text", "align": "left", "baseline": "middle", "font": "Liberation Sans", "fontSize": 19, "fontWeight": "bold", "color": "#1414ee"},
 "encoding": {
  "x": {"datum": 39.1, "type": "quantitative", "scale": {"domain": [-1.1, 783.4], "nice": false, "zero": false}, "axis": {"values": [0,30,90,150,210,270,330,390,420,480,540,600,660,720], "labelExpr": "datum.value == 0 ? '31Oct' : datum.value == 390 ? '1Nov' : datum.value == 30 ? '' : ((floor(((datum.value % 390) + 570) / 60) - 1) % 12 + 1) + ':00'", "labelFontWeight": {"condition": {"test": "datum.value == 0 || datum.value == 390", "value": "bold"}, "value": "normal"}, "labelFontSize": {"condition": {"test": "datum.value == 0 || datum.value == 390", "value": 12}, "value": 11}, "labelOverlap": false, "labelFlush": false, "labelBound": false, "grid": true, "gridColor": "#d6d6d6", "gridDash": [3,3], "ticks": false, "tickSize": 0, "labelPadding": 2, "domain": false, "title": null}},
  "y": {"datum": 142.462, "type": "quantitative", "scale": {"domain": [140.636, 142.611], "nice": false, "zero": false}, "axis": {"orient": "right", "values": [140.7,140.8,140.9,141.0,141.1,141.2,141.3,141.4,141.5,141.6,141.7,141.8,141.9,142.0,142.1,142.2,142.3,142.4,142.5], "format": ".2f", "grid": true, "gridColor": "#d6d6d6", "gridDash": [3,3], "ticks": true, "tickSize": 4, "tickColor": "#777777", "labelPadding": 1, "labelFontSize": 11, "domain": false, "title": null}},
  "text": {"value": "bbs.cobrasmarketview.com"}
 }}
]
},
{
"width": 693, "height": 215,
"layer": [
{"data": {"name": "bars"}, "mark": {"type": "bar", "width": 4.2, "strokeWidth": 0.6},
 "encoding": {
  "x": {"field": "t", "type": "quantitative", "scale": {"domain": [-1.1, 783.4], "nice": false, "zero": false}, "axis": {"values": [0,30,90,150,210,270,330,390,420,480,540,600,660,720], "labelExpr": "datum.value == 0 ? '31Oct' : datum.value == 390 ? '1Nov' : datum.value == 30 ? '' : ((floor(((datum.value % 390) + 570) / 60) - 1) % 12 + 1) + ':00'", "labelFontWeight": {"condition": {"test": "datum.value == 0 || datum.value == 390", "value": "bold"}, "value": "normal"}, "labelFontSize": {"condition": {"test": "datum.value == 0 || datum.value == 390", "value": 12}, "value": 11}, "labelOverlap": false, "labelFlush": false, "labelBound": false, "grid": true, "gridColor": "#d6d6d6", "gridDash": [3,3], "ticks": false, "tickSize": 0, "labelPadding": 2, "domain": false, "title": null}},
  "y": {"field": "v", "type": "quantitative", "stack": null, "scale": {"domain": [0, 7.215], "nice": false, "zero": false},
   "axis": {"orient": "left", "values": [1,2,3,4,5], "labelExpr": "datum.value + 'M'", "grid": false, "ticks": true, "tickSize": 3, "tickColor": "#777777", "labelPadding": 0, "labelFontSize": 11, "domain": false, "title": null}},
  "fill": {"condition": {"test": "datum.vd == 'd'", "value": "#e8b4b9"}, "value": "#bdbdbd"},
  "stroke": {"condition": {"test": "datum.vd == 'd'", "value": "#c98a92"}, "value": "#8e8e8e"}
 }},
{"layer": [
 {"data": {"name": "elines"}, "mark": {"type": "line", "strokeWidth": 1, "clip": true},
  "encoding": {
   "x": {"field": "t", "type": "quantitative", "scale": {"domain": [-1.1, 783.4], "nice": false, "zero": false}, "axis": {"values": [0,30,90,150,210,270,330,390,420,480,540,600,660,720], "labelExpr": "datum.value == 0 ? '31Oct' : datum.value == 390 ? '1Nov' : datum.value == 30 ? '' : ((floor(((datum.value % 390) + 570) / 60) - 1) % 12 + 1) + ':00'", "labelFontWeight": {"condition": {"test": "datum.value == 0 || datum.value == 390", "value": "bold"}, "value": "normal"}, "labelFontSize": {"condition": {"test": "datum.value == 0 || datum.value == 390", "value": 12}, "value": 11}, "labelOverlap": false, "labelFlush": false, "labelBound": false, "grid": true, "gridColor": "#d6d6d6", "gridDash": [3,3], "ticks": false, "tickSize": 0, "labelPadding": 2, "domain": false, "title": null}},
   "y": {"field": "p", "type": "quantitative", "scale": {"domain": [2089.33, 2120.07], "nice": false, "zero": false}, "axis": {"orient": "right", "values": [2090,2092.5,2095,2097.5,2100,2102.5,2105,2107.5,2110,2112.5,2115,2117.5], "format": ".1f", "grid": true, "gridColor": "#d6d6d6", "gridDash": [3,3], "ticks": true, "tickSize": 4, "tickColor": "#777777", "labelPadding": 1, "labelFontSize": 11, "domain": false, "title": null}},
   "detail": {"field": "s"},
   "stroke": {"condition": [{"test": "datum.s == 'pink'", "value": "#f2a8f2"}, {"test": "datum.s == 'violet'", "value": "#c9b0f2"}], "value": "#acd4a6"}
  }},
 {"data": {"name": "bars"}, "transform": [{"filter": "datum.t == 430"}], "mark": {"type": "rect", "fill": "#c9f2bd", "stroke": "#a3da94", "strokeWidth": 1},
  "encoding": {
   "x": {"datum": 427.7, "type": "quantitative", "scale": {"domain": [-1.1, 783.4], "nice": false, "zero": false}, "axis": {"values": [0,30,90,150,210,270,330,390,420,480,540,600,660,720], "labelExpr": "datum.value == 0 ? '31Oct' : datum.value == 390 ? '1Nov' : datum.value == 30 ? '' : ((floor(((datum.value % 390) + 570) / 60) - 1) % 12 + 1) + ':00'", "labelFontWeight": {"condition": {"test": "datum.value == 0 || datum.value == 390", "value": "bold"}, "value": "normal"}, "labelFontSize": {"condition": {"test": "datum.value == 0 || datum.value == 390", "value": 12}, "value": 11}, "labelOverlap": false, "labelFlush": false, "labelBound": false, "grid": true, "gridColor": "#d6d6d6", "gridDash": [3,3], "ticks": false, "tickSize": 0, "labelPadding": 2, "domain": false, "title": null}},
   "x2": {"datum": 433.8},
   "y": {"datum": 2118.6, "type": "quantitative", "scale": {"domain": [2089.33, 2120.07], "nice": false, "zero": false}, "axis": {"orient": "right", "values": [2090,2092.5,2095,2097.5,2100,2102.5,2105,2107.5,2110,2112.5,2115,2117.5], "format": ".1f", "grid": true, "gridColor": "#d6d6d6", "gridDash": [3,3], "ticks": true, "tickSize": 4, "tickColor": "#777777", "labelPadding": 1, "labelFontSize": 11, "domain": false, "title": null}},
   "y2": {"datum": 2119.55}
  }},
 {"data": {"name": "bars"}, "mark": {"type": "rule", "strokeWidth": 1, "stroke": "#000000"},
  "encoding": {
   "x": {"field": "t", "type": "quantitative", "scale": {"domain": [-1.1, 783.4], "nice": false, "zero": false}, "axis": {"values": [0,30,90,150,210,270,330,390,420,480,540,600,660,720], "labelExpr": "datum.value == 0 ? '31Oct' : datum.value == 390 ? '1Nov' : datum.value == 30 ? '' : ((floor(((datum.value % 390) + 570) / 60) - 1) % 12 + 1) + ':00'", "labelFontWeight": {"condition": {"test": "datum.value == 0 || datum.value == 390", "value": "bold"}, "value": "normal"}, "labelFontSize": {"condition": {"test": "datum.value == 0 || datum.value == 390", "value": 12}, "value": 11}, "labelOverlap": false, "labelFlush": false, "labelBound": false, "grid": true, "gridColor": "#d6d6d6", "gridDash": [3,3], "ticks": false, "tickSize": 0, "labelPadding": 2, "domain": false, "title": null}},
   "y": {"field": "el", "type": "quantitative", "scale": {"domain": [2089.33, 2120.07], "nice": false, "zero": false}, "axis": {"orient": "right", "values": [2090,2092.5,2095,2097.5,2100,2102.5,2105,2107.5,2110,2112.5,2115,2117.5], "format": ".1f", "grid": true, "gridColor": "#d6d6d6", "gridDash": [3,3], "ticks": true, "tickSize": 4, "tickColor": "#777777", "labelPadding": 1, "labelFontSize": 11, "domain": false, "title": null}},
   "y2": {"field": "eh"}
  }},
 {"data": {"name": "bars"}, "mark": {"type": "bar", "width": 3, "strokeWidth": 1, "stroke": "#000000"},
  "encoding": {
   "x": {"field": "t", "type": "quantitative", "scale": {"domain": [-1.1, 783.4], "nice": false, "zero": false}, "axis": {"values": [0,30,90,150,210,270,330,390,420,480,540,600,660,720], "labelExpr": "datum.value == 0 ? '31Oct' : datum.value == 390 ? '1Nov' : datum.value == 30 ? '' : ((floor(((datum.value % 390) + 570) / 60) - 1) % 12 + 1) + ':00'", "labelFontWeight": {"condition": {"test": "datum.value == 0 || datum.value == 390", "value": "bold"}, "value": "normal"}, "labelFontSize": {"condition": {"test": "datum.value == 0 || datum.value == 390", "value": 12}, "value": 11}, "labelOverlap": false, "labelFlush": false, "labelBound": false, "grid": true, "gridColor": "#d6d6d6", "gridDash": [3,3], "ticks": false, "tickSize": 0, "labelPadding": 2, "domain": false, "title": null}},
   "y": {"field": "eo", "type": "quantitative", "scale": {"domain": [2089.33, 2120.07], "nice": false, "zero": false}, "axis": {"orient": "right", "values": [2090,2092.5,2095,2097.5,2100,2102.5,2105,2107.5,2110,2112.5,2115,2117.5], "format": ".1f", "grid": true, "gridColor": "#d6d6d6", "gridDash": [3,3], "ticks": true, "tickSize": 4, "tickColor": "#777777", "labelPadding": 1, "labelFontSize": 11, "domain": false, "title": null}},
   "y2": {"field": "ec"},
   "fill": {"condition": {"test": "datum.ec > datum.eo", "value": "#ffffff"}, "value": "#000000"}
  }},
 {"data": {"name": "bars"}, "mark": {"type": "line", "stroke": "#22228f", "strokeWidth": 1.2},
  "encoding": {
   "x": {"field": "t", "type": "quantitative", "scale": {"domain": [-1.1, 783.4], "nice": false, "zero": false}, "axis": {"values": [0,30,90,150,210,270,330,390,420,480,540,600,660,720], "labelExpr": "datum.value == 0 ? '31Oct' : datum.value == 390 ? '1Nov' : datum.value == 30 ? '' : ((floor(((datum.value % 390) + 570) / 60) - 1) % 12 + 1) + ':00'", "labelFontWeight": {"condition": {"test": "datum.value == 0 || datum.value == 390", "value": "bold"}, "value": "normal"}, "labelFontSize": {"condition": {"test": "datum.value == 0 || datum.value == 390", "value": 12}, "value": 11}, "labelOverlap": false, "labelFlush": false, "labelBound": false, "grid": true, "gridColor": "#d6d6d6", "gridDash": [3,3], "ticks": false, "tickSize": 0, "labelPadding": 2, "domain": false, "title": null}},
   "y": {"field": "em", "type": "quantitative", "scale": {"domain": [2089.33, 2120.07], "nice": false, "zero": false}, "axis": {"orient": "right", "values": [2090,2092.5,2095,2097.5,2100,2102.5,2105,2107.5,2110,2112.5,2115,2117.5], "format": ".1f", "grid": true, "gridColor": "#d6d6d6", "gridDash": [3,3], "ticks": true, "tickSize": 4, "tickColor": "#777777", "labelPadding": 1, "labelFontSize": 11, "domain": false, "title": null}}
  }},
 {"data": {"name": "prev"}, "transform": [{"filter": "datum.panel == 'bot'"}], "mark": {"type": "rule", "stroke": "#0000ff", "strokeWidth": 1.3, "strokeDash": [4,3]},
  "encoding": {
   "x": {"field": "t", "type": "quantitative", "scale": {"domain": [-1.1, 783.4], "nice": false, "zero": false}, "axis": {"values": [0,30,90,150,210,270,330,390,420,480,540,600,660,720], "labelExpr": "datum.value == 0 ? '31Oct' : datum.value == 390 ? '1Nov' : datum.value == 30 ? '' : ((floor(((datum.value % 390) + 570) / 60) - 1) % 12 + 1) + ':00'", "labelFontWeight": {"condition": {"test": "datum.value == 0 || datum.value == 390", "value": "bold"}, "value": "normal"}, "labelFontSize": {"condition": {"test": "datum.value == 0 || datum.value == 390", "value": 12}, "value": 11}, "labelOverlap": false, "labelFlush": false, "labelBound": false, "grid": true, "gridColor": "#d6d6d6", "gridDash": [3,3], "ticks": false, "tickSize": 0, "labelPadding": 2, "domain": false, "title": null}},
   "x2": {"field": "t2"},
   "y": {"field": "y", "type": "quantitative", "scale": {"domain": [2089.33, 2120.07], "nice": false, "zero": false}, "axis": {"orient": "right", "values": [2090,2092.5,2095,2097.5,2100,2102.5,2105,2107.5,2110,2112.5,2115,2117.5], "format": ".1f", "grid": true, "gridColor": "#d6d6d6", "gridDash": [3,3], "ticks": true, "tickSize": 4, "tickColor": "#777777", "labelPadding": 1, "labelFontSize": 11, "domain": false, "title": null}}
  }},
 {"data": {"name": "bars"}, "transform": [{"filter": "datum.t == 0"}], "mark": {"type": "text", "align": "left", "baseline": "middle", "font": "DejaVu Sans", "fontSize": 11, "color": "#000000"},
  "encoding": {
   "x": {"datum": 1.4, "type": "quantitative", "scale": {"domain": [-1.1, 783.4], "nice": false, "zero": false}, "axis": {"values": [0,30,90,150,210,270,330,390,420,480,540,600,660,720], "labelExpr": "datum.value == 0 ? '31Oct' : datum.value == 390 ? '1Nov' : datum.value == 30 ? '' : ((floor(((datum.value % 390) + 570) / 60) - 1) % 12 + 1) + ':00'", "labelFontWeight": {"condition": {"test": "datum.value == 0 || datum.value == 390", "value": "bold"}, "value": "normal"}, "labelFontSize": {"condition": {"test": "datum.value == 0 || datum.value == 390", "value": 12}, "value": 11}, "labelOverlap": false, "labelFlush": false, "labelBound": false, "grid": true, "gridColor": "#d6d6d6", "gridDash": [3,3], "ticks": false, "tickSize": 0, "labelPadding": 2, "domain": false, "title": null}},
   "y": {"datum": 2119.17, "type": "quantitative", "scale": {"domain": [2089.33, 2120.07], "nice": false, "zero": false}, "axis": {"orient": "right", "values": [2090,2092.5,2095,2097.5,2100,2102.5,2105,2107.5,2110,2112.5,2115,2117.5], "format": ".1f", "grid": true, "gridColor": "#d6d6d6", "gridDash": [3,3], "ticks": true, "tickSize": 4, "tickColor": "#777777", "labelPadding": 1, "labelFontSize": 11, "domain": false, "title": null}},
   "text": {"value": "$SPXEW (5 min)"}
  }}
]}
],
"resolve": {"scale": {"y": "independent"}, "axis": {"y": "independent"}}
}
],
"spacing": 17,
"bounds": "flush",
"resolve": {"scale": {"x": "independent", "y": "independent"}}
}
